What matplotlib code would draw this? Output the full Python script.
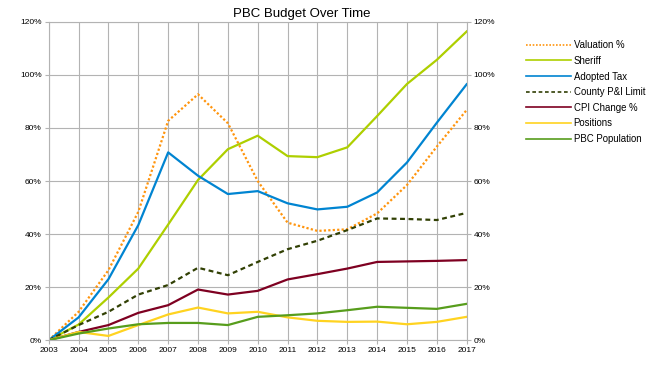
import numpy as np
import matplotlib
matplotlib.use('Agg')
import matplotlib.pyplot as plt
from matplotlib.ticker import FuncFormatter

plt.rcParams['font.family'] = ['Liberation Sans', 'DejaVu Sans']

years = list(range(2003, 2018))

valuation = [0, 10.7, 26.4, 48.4, 82.7, 92.7, 81.8, 60.0, 44.3, 41.2, 41.8, 47.8, 58.5, 73.0, 86.8]
sheriff = [0, 5.9, 16.1, 27.0, 43.6, 60.4, 72.0, 77.1, 69.4, 69.0, 72.7, 84.5, 96.6, 105.7, 116.4]
adopted_tax = [0, 8.6, 23.0, 43.4, 70.8, 62.0, 55.1, 56.2, 51.6, 49.3, 50.3, 55.7, 67.0, 82.0, 96.5]
county_limit = [0, 5.7, 10.7, 17.2, 20.8, 27.3, 24.5, 29.5, 34.3, 37.5, 41.5, 45.9, 45.7, 45.3, 48.0]
cpi = [0, 3.1, 5.7, 10.3, 13.2, 19.1, 17.2, 18.6, 22.9, 24.9, 27.0, 29.5, 29.7, 29.9, 30.2]
positions = [0, 3.1, 1.6, 5.7, 9.7, 12.3, 10.1, 10.7, 8.6, 7.3, 6.9, 7.0, 6.0, 6.9, 8.8]
population = [0, 2.5, 4.4, 6.0, 6.5, 6.5, 5.7, 8.8, 9.4, 10.1, 11.3, 12.6, 12.2, 11.8, 13.7]

series = [
    ('Valuation %', valuation, '#ff950e', (0, (1, 1))),
    ('Sheriff', sheriff, '#aecf00', '-'),
    ('Adopted Tax', adopted_tax, '#0084d1', '-'),
    ('County P&I Limit', county_limit, '#314004', (0, (2.2, 1.6))),
    ('CPI Change %', cpi, '#7e0021', '-'),
    ('Positions', positions, '#ffd320', '-'),
    ('PBC Population', population, '#579d1c', '-'),
]

fig = plt.figure(figsize=(6.5, 3.65), dpi=100)
ax = fig.add_axes([0.075, 0.068, 0.643, 0.872])

for name, vals, col, ls in series:
    ax.plot(years, np.array(vals) / 100, color=col, linestyle=ls, lw=1.6, label=name)

ax.set_xlim(2003, 2017)
ax.set_ylim(0, 1.2)
ax.set_xticks(years)
ax.set_yticks(np.arange(0, 1.21, 0.2))
pct = FuncFormatter(lambda v, p: '%d%%' % round(v * 100))
ax.yaxis.set_major_formatter(pct)
ax.grid(True, color='#b3b3b3', lw=0.8)
ax.set_axisbelow(True)
for s in ax.spines.values():
    s.set_color('#b3b3b3')
ax.tick_params(labelsize=6, length=3, color='#b3b3b3', pad=2)

ax2 = ax.twinx()
ax2.set_ylim(0, 1.2)
ax2.set_yticks(np.arange(0, 1.21, 0.2))
ax2.yaxis.set_major_formatter(pct)
ax2.tick_params(labelsize=6, length=3, color='#b3b3b3', pad=2)
for s in ax2.spines.values():
    s.set_visible(False)

fig.text(302 / 650, 1 - 14 / 365, 'PBC Budget Over Time', ha='center', va='center', fontsize=9.5)

handles, labels = ax.get_legend_handles_labels()
leg = fig.legend(handles, labels, loc='upper left', bbox_to_anchor=(0.802, 0.903),
                 frameon=False, fontsize=6.9, handlelength=4.7, handletextpad=0.25,
                 labelspacing=0.59, borderpad=0)
for h in leg.get_lines():
    h.set_linewidth(1.2)

fig.savefig('out.png', dpi=100)
